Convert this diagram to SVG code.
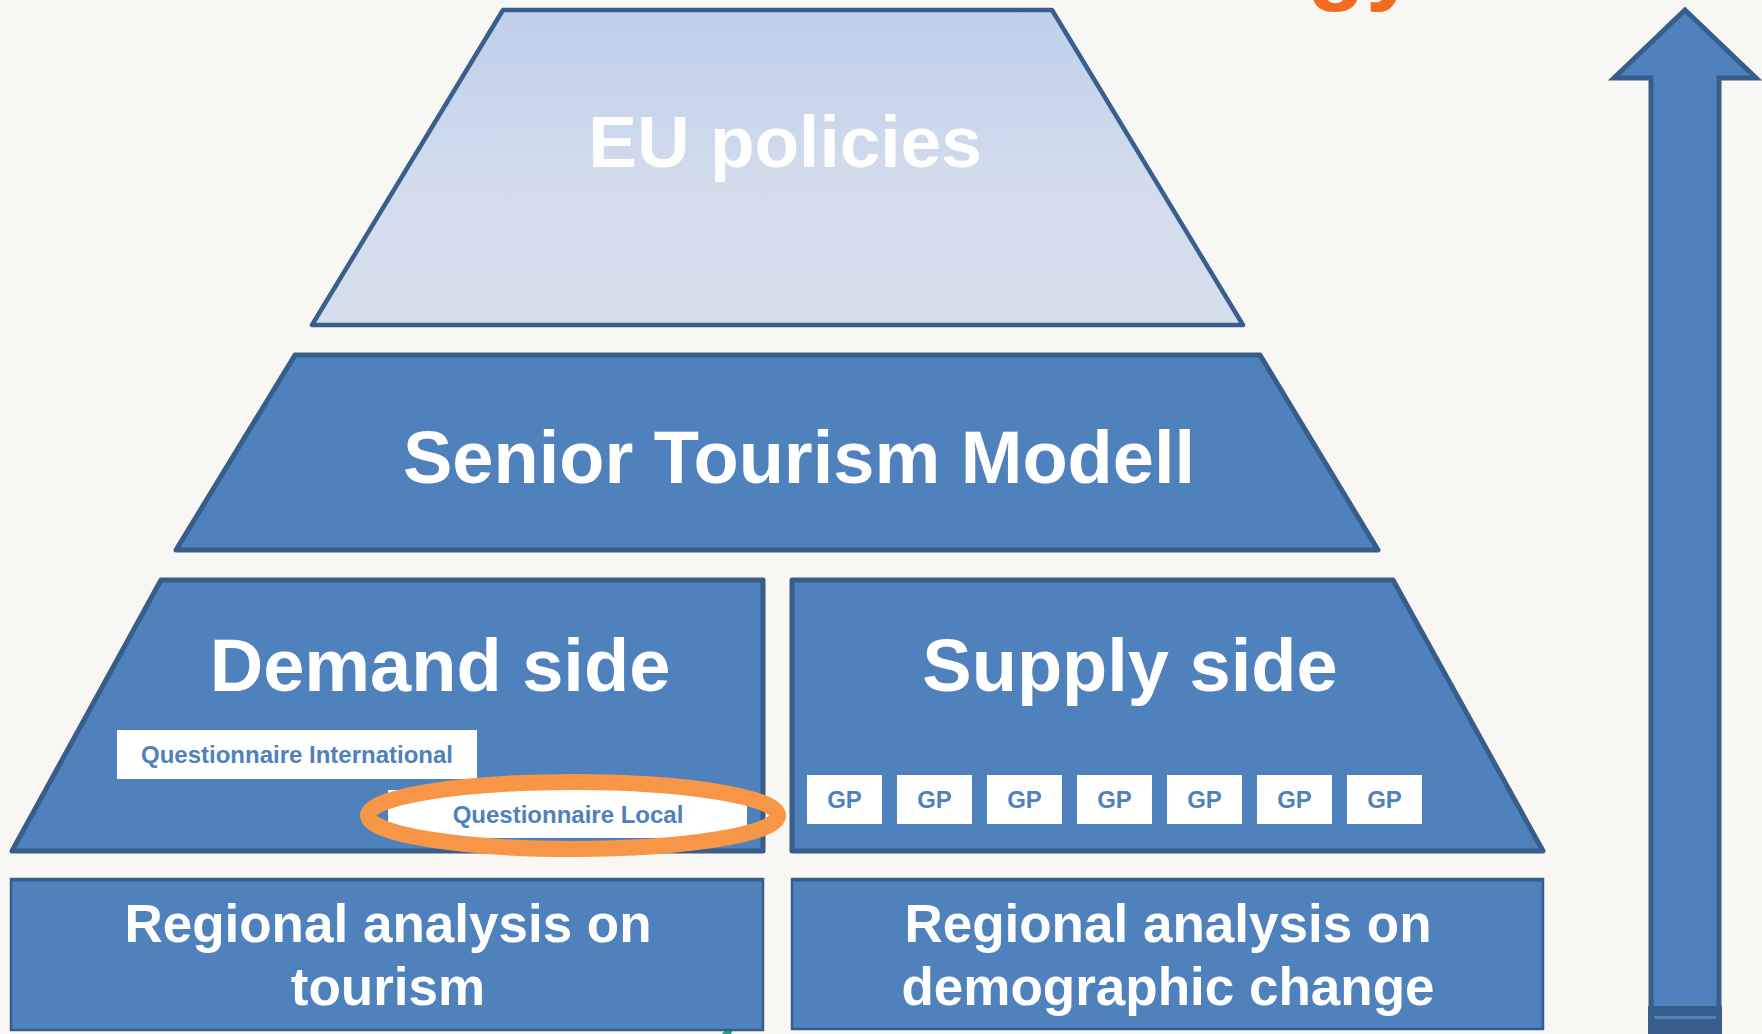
<svg xmlns="http://www.w3.org/2000/svg" width="1762" height="1034" viewBox="0 0 1762 1034">
  <style>
    .tier { fill: #4F81BD; stroke: #385D8A; stroke-width: 5; stroke-linejoin: round; }
    .base { fill: #4F81BD; stroke: #385D8A; stroke-width: 2.5; }
    .big { font-family: "Liberation Sans", Arial, sans-serif; font-weight: bold; fill: #FFFFFF; text-anchor: middle; }
    .tag { fill: #FFFFFF; }
    .tagtext { font-family: "Liberation Sans", Arial, sans-serif; font-weight: bold; font-size: 24px; fill: #4F81BD; text-anchor: middle; }
  </style>
  <defs>
    <linearGradient id="euFill" x1="0" y1="0" x2="0" y2="1">
      <stop offset="0" stop-color="#BECFEA"/>
      <stop offset="0.55" stop-color="#D2DCEC"/>
      <stop offset="1" stop-color="#D4DEED"/>
    </linearGradient>
  </defs>

  <!-- page background -->
  <rect x="0" y="0" width="1762" height="1034" fill="#F8F7F3"/>

  <!-- heading running off the top edge -->
  <text x="1307" y="-8" font-family="Liberation Sans, Arial, sans-serif" font-weight="bold" font-size="96" fill="#F26B21">gy</text>

  <!-- small green mark at the bottom edge -->
  <polygon points="722,1034 725,1030 733,1030 731,1034" fill="#1FA67A"/>

  <!-- top tier -->
  <g id="eu-policies">
    <polygon points="503,10 1052,10 1243,325 312,325" fill="url(#euFill)" stroke="#3A5F8E" stroke-width="4.5" stroke-linejoin="round"/>
    <text class="big" x="785" y="167" font-size="73">EU policies</text>
  </g>

  <!-- model tier -->
  <g id="senior-tourism-model">
    <polygon class="tier" points="295,355 1260,355 1378,550 176,550"/>
    <text class="big" x="799" y="483" font-size="74">Senior Tourism Modell</text>
  </g>

  <!-- demand side -->
  <g id="demand-side">
    <polygon class="tier" points="161,580 763,580 763,851 12,851"/>
    <text class="big" x="440" y="691" font-size="74">Demand side</text>
  </g>

  <g id="questionnaire-international">
    <rect class="tag" x="117" y="730" width="360" height="49"/>
    <text class="tagtext" x="297" y="763">Questionnaire International</text>
  </g>

  <g id="questionnaire-local">
    <rect class="tag" x="388" y="790" width="359" height="48"/>
    <text class="tagtext" x="568" y="823">Questionnaire Local</text>
    <ellipse cx="573" cy="815.5" rx="205" ry="33.5" fill="none" stroke="#F79646" stroke-width="16"/>
  </g>

  <!-- supply side -->
  <g id="supply-side">
    <polygon class="tier" points="792,580 1393,580 1543,851 792,851"/>
    <text class="big" x="1130" y="691" font-size="74">Supply side</text>
  </g>

  <g id="good-practices">
    <rect class="tag" x="807" y="775" width="75" height="49"/>
    <text class="tagtext" x="844.5" y="808">GP</text>
    <rect class="tag" x="897" y="775" width="75" height="49"/>
    <text class="tagtext" x="934.5" y="808">GP</text>
    <rect class="tag" x="987" y="775" width="75" height="49"/>
    <text class="tagtext" x="1024.5" y="808">GP</text>
    <rect class="tag" x="1077" y="775" width="75" height="49"/>
    <text class="tagtext" x="1114.5" y="808">GP</text>
    <rect class="tag" x="1167" y="775" width="75" height="49"/>
    <text class="tagtext" x="1204.5" y="808">GP</text>
    <rect class="tag" x="1257" y="775" width="75" height="49"/>
    <text class="tagtext" x="1294.5" y="808">GP</text>
    <rect class="tag" x="1347" y="775" width="75" height="49"/>
    <text class="tagtext" x="1384.5" y="808">GP</text>
  </g>

  <!-- base row -->
  <g id="regional-tourism">
    <rect class="base" x="11" y="879" width="752" height="151"/>
    <line x1="11" y1="880" x2="763" y2="880" stroke="#385D8A" stroke-width="3"/>
    <text class="big" x="388" y="942" font-size="53">Regional analysis on</text>
    <text class="big" x="388" y="1005" font-size="53">tourism</text>
  </g>

  <g id="regional-demography">
    <rect class="base" x="792" y="879" width="751" height="150"/>
    <line x1="792" y1="880" x2="1543" y2="880" stroke="#385D8A" stroke-width="3"/>
    <text class="big" x="1168" y="942" font-size="53">Regional analysis on</text>
    <text class="big" x="1168" y="1005" font-size="53">demographic change</text>
  </g>

  <!-- upward arrow along the right side -->
  <g id="connectors">
    <polygon points="1685,10 1756,78 1719,78 1719,1040 1651,1040 1651,78 1614,78" fill="#4F81BD" stroke="#385D8A" stroke-width="5" stroke-linejoin="miter"/>
    <rect x="1648" y="1006" width="74" height="28" fill="#385D8A"/>
    <rect x="1654" y="1016" width="62" height="3" fill="#4F81BD"/>
  </g>
</svg>
